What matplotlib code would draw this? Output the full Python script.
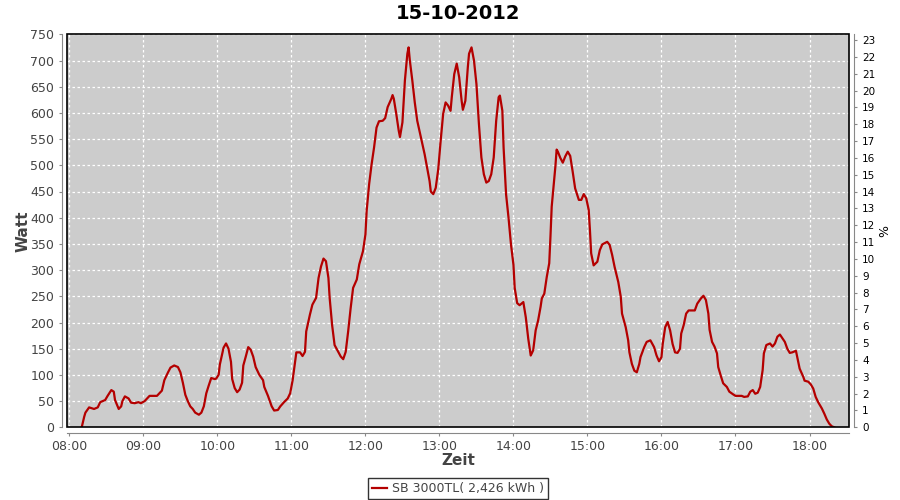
import pandas as pd
import matplotlib
matplotlib.use('Agg')
import matplotlib.pyplot as plt
import matplotlib.dates as mdates
from matplotlib.patches import Rectangle

# Leistung SB 3000TL am 15-10-2012
zeiten = ['08:10','08:12','08:13','08:16','08:20','08:23','08:25','08:29','08:31','08:34',
          '08:36','08:37','08:40','08:42','08:43','08:45','08:48','08:50','08:53','08:56',
          '08:58','09:01','09:03','09:05','09:11','09:13','09:15','09:17','09:20','09:22',
          '09:25','09:28','09:30','09:32','09:34','09:36','09:38','09:40','09:42','09:45',
          '09:47','09:49','09:51','09:53','09:55','09:58','09:59','10:01','10:02','10:05',
          '10:07','10:09','10:11','10:12','10:14','10:16','10:18','10:20','10:21','10:23',
          '10:25','10:27','10:29','10:31','10:34','10:37','10:38','10:41','10:44','10:46',
          '10:49','10:51','10:54','10:57','10:59','11:01','11:03','11:04','11:07','11:09',
          '11:11','11:12','11:15','11:17','11:20','11:22','11:24','11:26','11:28','11:30',
          '11:31','11:33','11:35','11:38','11:40','11:42','11:44','11:46','11:48','11:50',
          '11:53','11:55','11:58','12:00','12:01','12:03','12:05','12:07','12:09','12:11',
          '12:14','12:16','12:18','12:21','12:22','12:23','12:25','12:27','12:28','12:30',
          '12:32','12:34','12:35','12:36','12:38','12:40','12:42','12:45','12:48','12:50',
          '12:52','12:53','12:55','12:57','12:59','13:01','13:03','13:05','13:07','13:09',
          '13:10','13:12','13:14','13:16','13:18','13:19','13:21','13:23','13:24','13:26',
          '13:28','13:30','13:32','13:34','13:36','13:38','13:40','13:42','13:44','13:46',
          '13:48','13:49','13:51','13:52','13:54','13:56','13:58','14:00','14:01','14:03',
          '14:05','14:08','14:10','14:12','14:14','14:16','14:18','14:20','14:22','14:23',
          '14:25','14:27','14:29','14:30','14:31','14:33','14:34','14:35','14:36','14:38',
          '14:40','14:42','14:44','14:46','14:48','14:50','14:53','14:55','14:57','14:59',
          '15:01','15:02','15:03','15:05','15:08','15:10','15:12','15:16','15:18','15:20',
          '15:22','15:25','15:27','15:28','15:31','15:33','15:34','15:36','15:38','15:40',
          '15:42','15:43','15:46','15:48','15:51','15:54','15:56','15:58','16:00','16:01',
          '16:03','16:05','16:07','16:09','16:11','16:13','16:15','16:16','16:18','16:20',
          '16:22','16:27','16:29','16:32','16:34','16:36','16:38','16:39','16:41','16:43',
          '16:45','16:46','16:48','16:50','16:53','16:55','16:58','17:00','17:05','17:07',
          '17:10','17:12','17:14','17:16','17:18','17:20','17:22','17:23','17:25','17:28',
          '17:30','17:32','17:34','17:36','17:38','17:40','17:42','17:44','17:46','17:49',
          '17:50','17:52','17:55','17:56','17:59','18:01','18:03','18:05','18:07','18:10',
          '18:12','18:14','18:16','18:18','18:20']
watt = [0,20,28,38,35,38,48,52,60,71,
        68,52,35,40,50,59,55,47,46,48,
        46,50,55,60,60,65,70,90,105,114,
        118,115,105,85,62,50,40,35,28,24,
        28,40,65,80,94,92,93,100,120,152,
        160,150,125,92,75,67,72,85,118,135,
        153,148,135,115,100,90,77,60,40,32,
        33,40,48,55,65,90,125,143,143,136,
        144,183,215,234,247,285,307,322,317,285,
        247,195,157,144,135,130,144,183,227,266,
        282,311,336,368,413,464,502,534,572,584,
        585,590,611,627,634,627,598,566,554,582,
        662,713,725,700,662,620,585,553,521,496,
        470,450,445,457,492,547,598,620,614,604,
        630,674,694,668,623,606,623,687,713,725,
        700,655,579,515,483,467,470,483,515,585,
        630,633,604,534,445,400,349,310,266,237,
        233,239,210,169,137,147,185,204,230,246,
        255,287,313,364,421,472,498,530,526,514,
        505,517,526,518,488,456,434,434,445,437,
        415,376,332,309,316,338,349,354,348,329,
        306,277,249,217,191,166,143,121,108,105,
        121,134,153,163,166,153,137,126,134,159,
        191,201,185,159,143,142,150,179,195,217,
        223,223,236,246,251,243,217,186,163,154,
        141,115,99,84,77,68,63,60,60,58,
        59,68,71,64,66,77,109,141,157,160,
        154,160,173,177,170,163,150,142,143,146,
        135,112,96,89,87,82,74,58,48,36,
        26,15,7,2,0]

df = pd.DataFrame({'zeit': pd.to_datetime(['2012-10-15 ' + z for z in zeiten]), 'watt': watt})

grau = '#444444'
fig = plt.figure(figsize=(9, 5), dpi=100)
ax = fig.add_axes([0.0748, 0.1454, 0.9682 - 0.0748 - 0.025, 0.9314 - 0.1454])
ax.set_facecolor('#cccccc')

ax.plot(df['zeit'], df['watt'], color='#b40000', lw=1.6, label='SB 3000TL( 2,426 kWh )', zorder=3)

ax.set_xlim(pd.Timestamp('2012-10-15 07:58:20'), pd.Timestamp('2012-10-15 18:31:55'))
ax.set_ylim(0, 750)
ax.set_yticks(range(0, 751, 50))
ax.xaxis.set_major_locator(mdates.HourLocator())
ax.xaxis.set_major_formatter(mdates.DateFormatter('%H:%M'))

ax.grid(True, color='white', ls=(0, (2, 2)), lw=0.9)
ax.set_axisbelow(True)

for s in ['left', 'bottom']:
    ax.spines[s].set_position(('outward', 4))
    ax.spines[s].set_color('#888888')
ax.spines['top'].set_visible(False)
ax.spines['right'].set_visible(False)
ax.add_patch(Rectangle((0, 0), 1, 1, transform=ax.transAxes, fill=False,
                       edgecolor='black', lw=1.2, clip_on=False, zorder=4))
ax.tick_params(axis='both', colors='#888888', labelcolor=grau, labelsize=9, length=2, width=0.8)

ax.set_ylabel('Watt', fontsize=11, fontweight='bold', color=grau, labelpad=0)
ax.set_xlabel('Zeit', fontsize=11, fontweight='bold', color=grau, labelpad=0)
ax.set_title('15-10-2012', fontsize=14, fontweight='bold', pad=11)

ax2 = ax.twinx()
ax2.set_ylim(0, 23.34)
ax2.set_yticks(range(0, 24))
for s in ['left', 'bottom', 'top']:
    ax2.spines[s].set_visible(False)
ax2.spines['right'].set_position(('outward', 4))
ax2.spines['right'].set_color('#888888')
ax2.tick_params(axis='y', colors='#888888', labelcolor='black', labelsize=7.5, length=2, width=0.8)
ax2.set_ylabel('%', fontsize=9, labelpad=2)

leg = ax.legend(loc='upper center', bbox_to_anchor=(0.5, -0.128), frameon=True, fancybox=False,
                fontsize=9, handlelength=1.2, handletextpad=0.4, borderpad=0.35,
                borderaxespad=0.0)
leg.get_frame().set_edgecolor('black')
leg.get_frame().set_linewidth(1.0)
for t in leg.get_texts():
    t.set_color(grau)

plt.savefig('out.png', dpi=100)
